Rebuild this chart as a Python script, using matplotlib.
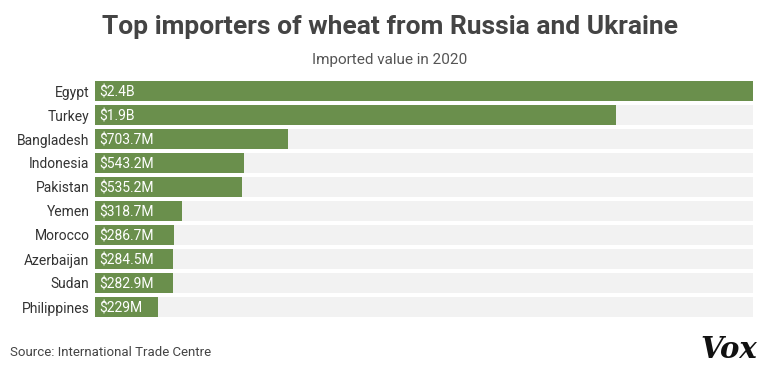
import matplotlib
matplotlib.use("Agg")
import matplotlib.pyplot as plt
from matplotlib import font_manager as fm

countries = ["Egypt", "Turkey", "Bangladesh", "Indonesia", "Pakistan",
             "Yemen", "Morocco", "Azerbaijan", "Sudan", "Philippines"]
values_m = [2400, 1900, 703.7, 543.2, 535.2, 318.7, 286.7, 284.5, 282.9, 229]
value_labels = ["$2.4B", "$1.9B", "$703.7M", "$543.2M", "$535.2M",
                "$318.7M", "$286.7M", "$284.5M", "$282.9M", "$229M"]

plt.rcParams["font.family"] = ["Roboto", "DejaVu Sans"]

W, H = 779, 371
fig = plt.figure(figsize=(W / 100, H / 100), dpi=100)
fig.patch.set_facecolor("white")

ax = fig.add_axes([95 / W, 1 - 319 / H, (753 - 95) / W, (319 - 79) / H])
n = len(countries)
ypos = list(range(n))
vmax = max(values_m)
bh = 20 / 24
ax.barh(ypos, [vmax] * n, height=bh, color="#f2f2f2", zorder=1)
ax.barh(ypos, values_m, height=bh, color="#6a8f4c", zorder=2)
ax.set_xlim(0, vmax)
ax.set_ylim(n - 0.5, -0.5)
ax.axis("off")

for i, (c, lab) in enumerate(zip(countries, value_labels)):
    ax.annotate(c, xy=(0, i), xytext=(-4, 0), textcoords="offset points",
                ha="right", va="center_baseline", fontsize=10, color="#333333")
    ax.annotate(lab, xy=(0, i), xytext=(3, 0), textcoords="offset points",
                ha="left", va="center_baseline", fontsize=10, color="white", zorder=3)

fig.text(0.5, 1 - 27 / H, "Top importers of wheat from Russia and Ukraine",
         ha="center", va="center", fontsize=19, fontweight="bold", color="#444444")
fig.text(0.5, 1 - 60 / H, "Imported value in 2020", ha="center", va="center",
         fontsize=11, color="#555555")
fig.text(10 / W, 1 - 352 / H, "Source: International Trade Centre", ha="left",
         va="center", fontsize=9.5, color="#444444")
fig.text(757 / W, 1 - 350 / H, "Vox", ha="right", va="center", fontsize=21,
         fontweight="bold", fontstyle="italic", family="DejaVu Serif",
         color="#111111")

fig.savefig("out.png", dpi=100)
